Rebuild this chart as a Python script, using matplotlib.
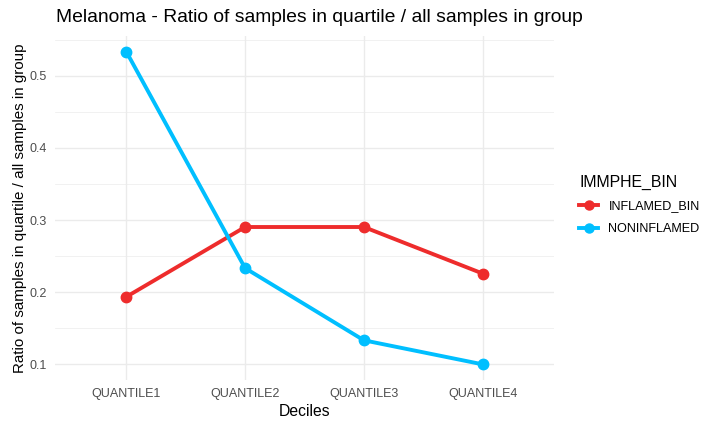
import matplotlib
matplotlib.use("Agg")
import matplotlib.pyplot as plt
from matplotlib.lines import Line2D
from matplotlib.ticker import MultipleLocator

plt.rcParams['font.family'] = ['Liberation Sans', 'DejaVu Sans']

categories = ["QUANTILE1", "QUANTILE2", "QUANTILE3", "QUANTILE4"]
inflamed = [6/31, 9/31, 9/31, 7/31]
noninflamed = [16/30, 7/30, 4/30, 3/30]
series_names = ["INFLAMED_BIN", "NONINFLAMED"]
series_colors = ["#EE2C2C", "#00BFFF"]

W, H = 704, 422
fig = plt.figure(figsize=(W / 100, H / 100), dpi=100)
# panel in pixel coordinates
left, right, top, bottom = 55, 554, 36, 380
ax = fig.add_axes([left / W, 1 - bottom / H, (right - left) / W, (bottom - top) / H])

x = list(range(len(categories)))
for vals, col in zip([inflamed, noninflamed], series_colors):
    ax.plot(x, vals, color=col, lw=2.8, marker="o", ms=7.5, zorder=3,
            solid_capstyle="butt")

allv = inflamed + noninflamed
lo, hi = min(allv), max(allv)
pad = (hi - lo) * 0.05
ax.set_ylim(lo - pad, hi + pad)
ax.set_xlim(-0.6, len(categories) - 1 + 0.6)

ax.set_xticks(x)
ax.set_xticklabels(categories)
ax.yaxis.set_minor_locator(MultipleLocator(0.05))
yt = [0.1, 0.2, 0.3, 0.4, 0.5]
ax.set_yticks(yt)
ax.set_yticklabels([f"{v:.1f}" for v in yt])

ax.grid(True, which="major", color="#EBEBEB", lw=1.0, zorder=0)
ax.grid(True, which="minor", axis="y", color="#EBEBEB", lw=0.5, zorder=0)
for s in ax.spines.values():
    s.set_visible(False)
ax.tick_params(axis="both", which="both", length=0, labelsize=9, labelcolor="#4D4D4D", pad=6)

ax.set_xlabel("Deciles", fontsize=11.3, color="black", labelpad=3)
ax.set_ylabel("Ratio of samples in quartile / all samples in group", fontsize=10.9,
              color="black", labelpad=2)

fig.text(56 / W, 1 - 18 / H, "Melanoma - Ratio of samples in quartile / all samples in group",
         fontsize=13.9, va="center", ha="left", color="black")

handles = [Line2D([0], [0], color=c, lw=2.8, marker="o", ms=6.5) for c in series_colors]
leg = fig.legend(handles, series_names, loc="upper left",
                 bbox_to_anchor=(568 / W, 1 - 163 / H), frameon=False,
                 title="IMMPHE_BIN", fontsize=9.1, title_fontsize=11.4,
                 handlelength=1.5, handletextpad=0.8, labelspacing=0.85)
leg._legend_box.align = "left"
for t in leg.get_texts():
    t.set_color("black")

fig.savefig("out.png", dpi=100, facecolor="white")
